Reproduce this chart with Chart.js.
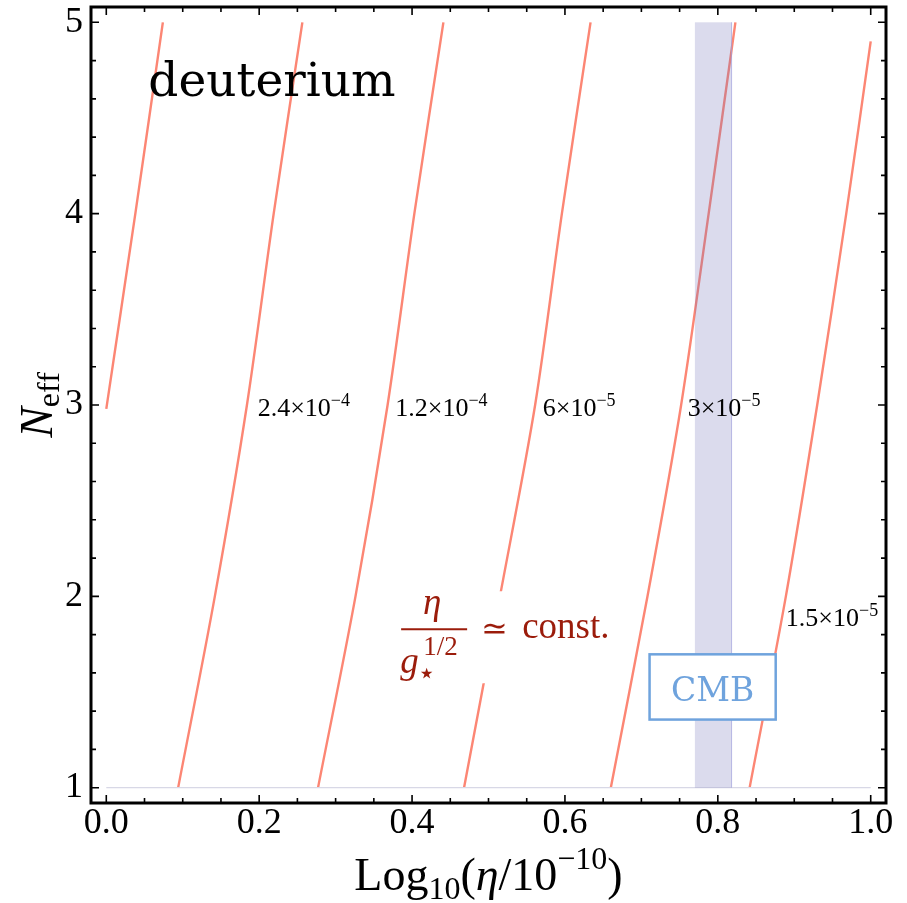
<!DOCTYPE html>
<html>
<head>
<meta charset="utf-8">
<script src="https://cdn.jsdelivr.net/npm/chart.js@4.4.1/dist/chart.umd.min.js"></script>
<style>
  html, body { margin: 0; padding: 0; background: #fff; }
  #wrap { width: 907px; height: 903px; }
</style>
</head>
<body>
<div id="wrap"><canvas id="dChart" width="907" height="903"></canvas></div>
<script>
// axis ticks
const xTicks = [0, 0.2, 0.4, 0.6, 0.8, 1.0];
const xTickLabels = ['0.0', '0.2', '0.4', '0.6', '0.8', '1.0'];
const yTicks = [1, 2, 3, 4, 5];
const yTickLabels = ['1', '2', '3', '4', '5'];

// contours of constant D/H (log10(eta/1e-10) vs N_eff)
const nEff = [1, 2, 3, 4, 5];
const contour1N = [2.98, 4, 5];
const contour1X = [0.0, 0.038, 0.074];
const contour2X = [0.094, 0.142, 0.184, 0.219, 0.2565];
const contour3X = [0.277, 0.326, 0.368, 0.403, 0.441];
const contour4X = [0.468, 0.515, 0.561, 0.596, 0.6335];
const contour5X = [0.660, 0.708, 0.752, 0.788, 0.823];
const contour6N = [1, 2, 3, 4, 4.9];
const contour6X = [0.8416, 0.889, 0.930, 0.968, 1.0];

const contourMantissa = ['2.4\u00d710', '1.2\u00d710', '6\u00d710', '3\u00d710', '1.5\u00d710'];
const contourExponent = ['\u22124', '\u22124', '\u22125', '\u22125', '\u22125'];

// CMB band
const cmbEta = [0.77, 0.818];
const cmbN = [1, 5];

// N_eff = 1 floor line
const floorX = [0, 1];
const floorN = [1, 1];

const RED = '#fc8674';
const serif = '"Liberation Serif", "Times New Roman", serif';

function pts(xs, ns) { return xs.map((x, i) => ({ x: x, y: ns[i] })); }

const contours = [
  pts(contour1X, contour1N), pts(contour2X, nEff), pts(contour3X, nEff),
  pts(contour4X, nEff), pts(contour5X, nEff), pts(contour6X, contour6N)
];

const datasets = [{
  data: pts(floorX, floorN), showLine: true, borderColor: '#d8d8e6',
  borderWidth: 1.2, pointRadius: 0
}].concat(contours.map(d => ({
  data: d, showLine: true, borderColor: RED, borderWidth: 2.4,
  pointRadius: 0, tension: 0.3
})));

// draw text runs (font, dy) one after the other
function runsWidth(ctx, runs) {
  let w = 0;
  runs.forEach(r => { ctx.font = r.font; w += ctx.measureText(r.t).width; });
  return w;
}
function drawRuns(ctx, runs, x, y) {
  runs.forEach(r => {
    ctx.font = r.font;
    ctx.fillText(r.t, x, y + (r.dy || 0));
    x += ctx.measureText(r.t).width;
  });
}

const decorPlugin = {
  id: 'decor',
  afterDatasetsDraw(chart) {
    const ctx = chart.ctx, xs = chart.scales.x, ys = chart.scales.y;
    const px = v => xs.getPixelForValue(v), py = v => ys.getPixelForValue(v);
    ctx.save();

    // CMB band
    ctx.fillStyle = 'rgba(110,110,185,0.25)';
    ctx.fillRect(px(cmbEta[0]), py(cmbN[1]), px(cmbEta[1]) - px(cmbEta[0]), py(cmbN[0]) - py(cmbN[1]));
    ctx.strokeStyle = 'rgba(160,160,220,0.7)';
    ctx.lineWidth = 1;
    ctx.beginPath();
    ctx.moveTo(px(cmbEta[1]), py(cmbN[1]));
    ctx.lineTo(px(cmbEta[1]), py(cmbN[0]));
    ctx.stroke();

    ctx.textAlign = 'left';
    ctx.textBaseline = 'alphabetic';

    // contour labels
    const labelPos = [[0.198, 2.945], [0.378, 2.945], [0.571, 2.945], [0.7605, 2.945], [0.889, 1.844]];
    ctx.fillStyle = '#000';
    contourMantissa.forEach((m, i) => {
      drawRuns(ctx, [
        { t: m, font: '26px ' + serif },
        { t: contourExponent[i], font: '18px ' + serif, dy: -10 }
      ], px(labelPos[i][0]), py(labelPos[i][1]));
    });

    // "deuterium"
    ctx.font = '47px "DejaVu Serif", serif';
    ctx.fillText('deuterium', px(0.055), py(4.617));

    // eta / g*^(1/2) ~ const. label
    const bx = px(0.3857), by = py(1.828);
    ctx.fillStyle = '#fff';
    ctx.fillRect(bx - 8, by - 38, 228, 92);
    const dark = '#9b1c0b';
    ctx.fillStyle = dark;
    ctx.strokeStyle = dark;
    ctx.lineWidth = 2;
    ctx.beginPath(); ctx.moveTo(bx, by); ctx.lineTo(bx + 66, by); ctx.stroke();
    ctx.textAlign = 'center';
    ctx.font = 'italic 37px ' + serif;
    ctx.fillText('\u03b7', bx + 31, by - 15);
    ctx.textAlign = 'left';
    ctx.font = 'italic 37px ' + serif;
    ctx.fillText('g', bx - 1, by + 44);
    ctx.font = '30px "DejaVu Sans", sans-serif';
    ctx.fillText('\u22c6', bx + 16, by + 54);
    ctx.font = '27px ' + serif;
    ctx.fillText('1/2', bx + 22, by + 26);
    ctx.font = '32px "DejaVu Serif", serif';
    ctx.fillText('\u2243', bx + 80, by + 10);
    ctx.font = '37px ' + serif;
    ctx.fillText('const.', bx + 121, by + 9);

    // CMB box
    const c0 = px(0.7107), c1 = px(0.8757), r0 = py(1.697), r1 = py(1.356);
    ctx.fillStyle = '#fff';
    ctx.fillRect(c0, r0, c1 - c0, r1 - r0);
    ctx.strokeStyle = '#6fa3dd';
    ctx.lineWidth = 2.5;
    ctx.strokeRect(c0, r0, c1 - c0, r1 - r0);
    ctx.fillStyle = '#6fa3dd';
    ctx.textAlign = 'center';
    ctx.font = '33px "DejaVu Serif", serif';
    ctx.fillText('CMB', (c0 + c1) / 2, r1 - 19);

    ctx.restore();
  },
  afterDraw(chart) {
    const ctx = chart.ctx, a = chart.chartArea, xs = chart.scales.x, ys = chart.scales.y;
    ctx.save();
    ctx.strokeStyle = '#000';

    // ticks on all four sides, pointing inward
    ctx.lineWidth = 1.6;
    ctx.beginPath();
    for (let k = 0; k <= 20; k++) {
      const v = k * 0.05, x = xs.getPixelForValue(v), len = (k % 4 === 0) ? 8 : 5;
      ctx.moveTo(x, a.bottom); ctx.lineTo(x, a.bottom - len);
      ctx.moveTo(x, a.top); ctx.lineTo(x, a.top + len);
    }
    for (let k = 0; k <= 20; k++) {
      const v = 1 + k * 0.2, y = ys.getPixelForValue(v), len = (k % 5 === 0) ? 8 : 5;
      ctx.moveTo(a.left, y); ctx.lineTo(a.left + len, y);
      ctx.moveTo(a.right, y); ctx.lineTo(a.right - len, y);
    }
    ctx.stroke();

    // frame
    ctx.lineWidth = 3;
    ctx.strokeRect(a.left, a.top, a.right - a.left, a.bottom - a.top);

    // axis titles
    ctx.fillStyle = '#000';
    ctx.textAlign = 'left';
    ctx.textBaseline = 'alphabetic';
    const big = '46px ' + serif, small = '32px ' + serif;
    const xRuns = [
      { t: 'Log', font: big }, { t: '10', font: small, dy: 9 },
      { t: '(', font: big }, { t: '\u03b7', font: 'italic ' + big },
      { t: '/10', font: big }, { t: '\u221210', font: small, dy: -21 },
      { t: ')', font: big }
    ];
    const xw = runsWidth(ctx, xRuns);
    drawRuns(ctx, xRuns, (a.left + a.right) / 2 - xw / 2, 890);

    const yRuns = [{ t: 'N', font: 'italic ' + big }, { t: 'eff', font: small, dy: 7 }];
    const yw = runsWidth(ctx, yRuns);
    ctx.translate(52, (a.top + a.bottom) / 2);
    ctx.rotate(-Math.PI / 2);
    drawRuns(ctx, yRuns, -yw / 2, 0);
    ctx.restore();
  }
};

new Chart(document.getElementById('dChart').getContext('2d'), {
  type: 'scatter',
  data: { datasets: datasets },
  options: {
    responsive: false,
    animation: false,
    devicePixelRatio: 1,
    layout: { padding: { top: 7, right: 21, left: 0, bottom: 0 } },
    plugins: { legend: { display: false }, tooltip: { enabled: false } },
    scales: {
      x: {
        type: 'linear', min: -0.02, max: 1.02,
        grid: { display: false, drawTicks: false },
        border: { display: false },
        afterBuildTicks: axis => { axis.ticks = xTicks.map(v => ({ value: v })); },
        afterFit: scale => { scale.height = 100; },
        ticks: {
          autoSkip: false, maxRotation: 0, padding: 0, color: '#000',
          font: { family: serif, size: 36, lineHeight: 1.15 },
          callback: (v, i) => xTickLabels[i]
        }
      },
      y: {
        type: 'linear', min: 0.92, max: 5.08,
        grid: { display: false, drawTicks: false },
        border: { display: false },
        afterBuildTicks: axis => { axis.ticks = yTicks.map(v => ({ value: v })); },
        afterFit: scale => { scale.width = 91; scale.paddingTop = 0; scale.paddingBottom = 0; },
        ticks: {
          autoSkip: false, padding: 8, color: '#000',
          font: { family: serif, size: 36, lineHeight: 0.3 },
          callback: (v, i) => yTickLabels[i]
        }
      }
    }
  },
  plugins: [decorPlugin]
});
</script>
</body>
</html>
